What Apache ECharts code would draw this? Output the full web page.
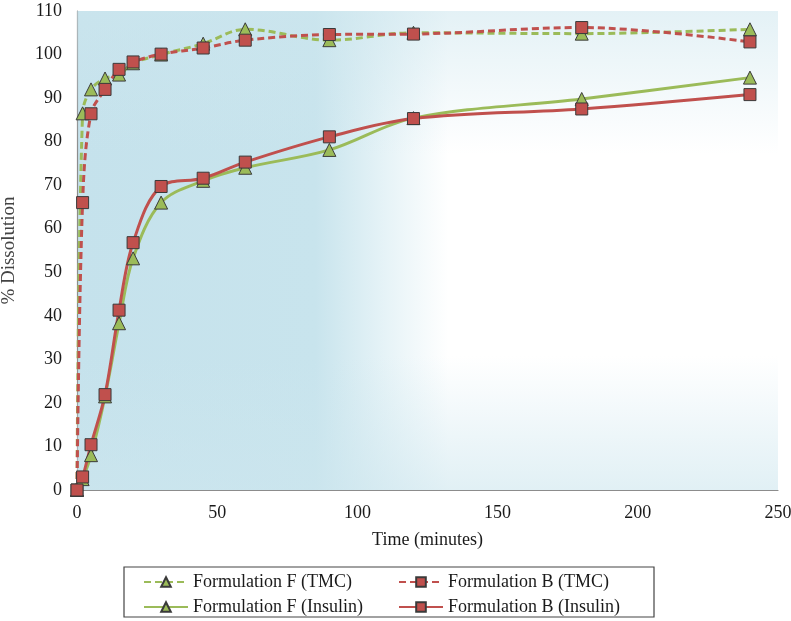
<!DOCTYPE html>
<html>
<head>
<meta charset="utf-8">
<script src="https://cdn.jsdelivr.net/npm/echarts@6/dist/echarts.min.js"></script>
<style>html,body{margin:0;padding:0;background:#fff;}#c{width:791px;height:621px;}</style>
</head>
<body>
<div id="c"></div>
<script>
// ---- data ----
const timeMin = [0, 2, 5, 10, 15, 20, 30, 45, 60, 90, 120, 180, 240];
const formFTMC = [0, 86.5, 92, 94.5, 95.4, 98, 100, 102.5, 105.8, 103.3, 105, 104.8, 105.8];
const formBTMC = [0, 66, 86.4, 92, 96.6, 98.3, 100.1, 101.5, 103.3, 104.6, 104.7, 106.2, 102.9];
const formFIns = [0, 2.5, 8, 21.5, 38.3, 53.2, 66, 71, 74, 78.1, 85.4, 89.8, 94.7];
const formBIns = [0, 3, 10.4, 21.9, 41.3, 56.8, 69.7, 71.6, 75.3, 81.1, 85.3, 87.5, 90.8];
const seriesNames = ['Formulation F (TMC)', 'Formulation B (TMC)', 'Formulation F (Insulin)', 'Formulation B (Insulin)'];
const xTicks = { min: 0, max: 250, interval: 50 };
const yTicks = { min: 0, max: 110, interval: 10 };

const G = { left: 77, top: 11, right: 13, bottom: 131 };
const W = 791, H = 621;
const gw = W - G.left - G.right, gh = H - G.top - G.bottom;

const GREEN = '#9bbb59', RED = '#c0504d';
const FONT = '"Liberation Serif", "Times New Roman", serif';

function pairs(vals) { return timeMin.map((t, i) => [t, vals[i]]); }

function mk(name, vals, color, dashed, symbol, size) {
  return {
    name: name, type: 'line', data: pairs(vals), smooth: 0.35,
    symbol: symbol, symbolSize: size,
    lineStyle: { color: color, width: 3, type: dashed ? [7, 4] : 'solid' },
    itemStyle: { color: color, borderColor: '#3a3a3a', borderWidth: 1 },
    emphasis: { disabled: true }
  };
}

function lg(name, left, top) {
  return {
    data: [name], left: left, top: top, padding: 0, itemGap: 0,
    itemWidth: 44, itemHeight: 12, selectedMode: false,
    textStyle: { fontFamily: FONT, fontSize: 18, color: '#1a1a1a' }
  };
}

const chart = echarts.init(document.getElementById('c'), null, { renderer: 'canvas' });
chart.setOption({
  animation: false,
  backgroundColor: '#fff',
  grid: {
    left: G.left, top: G.top, right: G.right, bottom: G.bottom, show: true, borderWidth: 0,
    containLabel: false, outerBoundsMode: 'none',
    backgroundColor: {
      type: 'linear', x: 0, y: 0, x2: 1, y2: 0,
      colorStops: [
        { offset: 0, color: '#c5e2ec' },
        { offset: 0.34, color: '#c8e4ed' },
        { offset: 0.44, color: '#e6f3f7' },
        { offset: 0.53, color: '#ffffff' },
        { offset: 1, color: '#ffffff' }
      ]
    }
  },
  graphic: [
    {
      type: 'rect', z: 1, silent: true,
      shape: { x: G.left, y: G.top, width: gw, height: gh * 0.3 },
      style: { fill: { type: 'linear', x: 0, y: 0, x2: 0, y2: 1,
        colorStops: [{ offset: 0, color: 'rgba(205,230,238,0.55)' }, { offset: 1, color: 'rgba(205,230,238,0)' }] } }
    },
    {
      type: 'rect', z: 1, silent: true,
      shape: { x: G.left, y: G.top + gh * 0.72, width: gw, height: gh * 0.28 },
      style: { fill: { type: 'linear', x: 0, y: 0, x2: 0, y2: 1,
        colorStops: [{ offset: 0, color: 'rgba(205,230,238,0)' }, { offset: 1, color: 'rgba(205,230,238,0.6)' }] } }
    },
    {
      type: 'rect', z: 1, silent: true,
      shape: { x: 124, y: 567, width: 530, height: 50 },
      style: { fill: '#fff', stroke: '#444', lineWidth: 1.2 }
    }
  ],
  xAxis: {
    type: 'value', min: xTicks.min, max: xTicks.max, interval: xTicks.interval,
    name: 'Time (minutes)', nameLocation: 'middle', nameGap: 41,
    nameTextStyle: { fontFamily: FONT, fontSize: 18, color: '#1a1a1a' },
    axisLine: { show: true, onZero: false, lineStyle: { color: '#8c8c8c', width: 1.2 } },
    axisTick: { show: false },
    splitLine: { show: false },
    axisLabel: { fontFamily: FONT, fontSize: 18, color: '#1a1a1a', margin: 14 }
  },
  yAxis: {
    type: 'value', min: yTicks.min, max: yTicks.max, interval: yTicks.interval,
    name: '% Dissolution', nameLocation: 'middle', nameGap: 58, nameRotate: 90,
    nameTextStyle: { fontFamily: FONT, fontSize: 19, color: '#444' },
    axisLine: { show: true, lineStyle: { color: '#8c8c8c', width: 1.2 } },
    axisTick: { show: false },
    splitLine: { show: false },
    axisLabel: { fontFamily: FONT, fontSize: 18, color: '#1a1a1a', margin: 15 }
  },
  legend: [
    lg(seriesNames[0], 143, 573),
    lg(seriesNames[1], 398, 573),
    lg(seriesNames[2], 143, 598),
    lg(seriesNames[3], 398, 598)
  ],
  series: [
    mk(seriesNames[0], formFTMC, GREEN, true, 'triangle', 13),
    mk(seriesNames[1], formBTMC, RED, true, 'rect', 12),
    mk(seriesNames[2], formFIns, GREEN, false, 'triangle', 13),
    mk(seriesNames[3], formBIns, RED, false, 'rect', 12)
  ]
});
</script>
</body>
</html>
